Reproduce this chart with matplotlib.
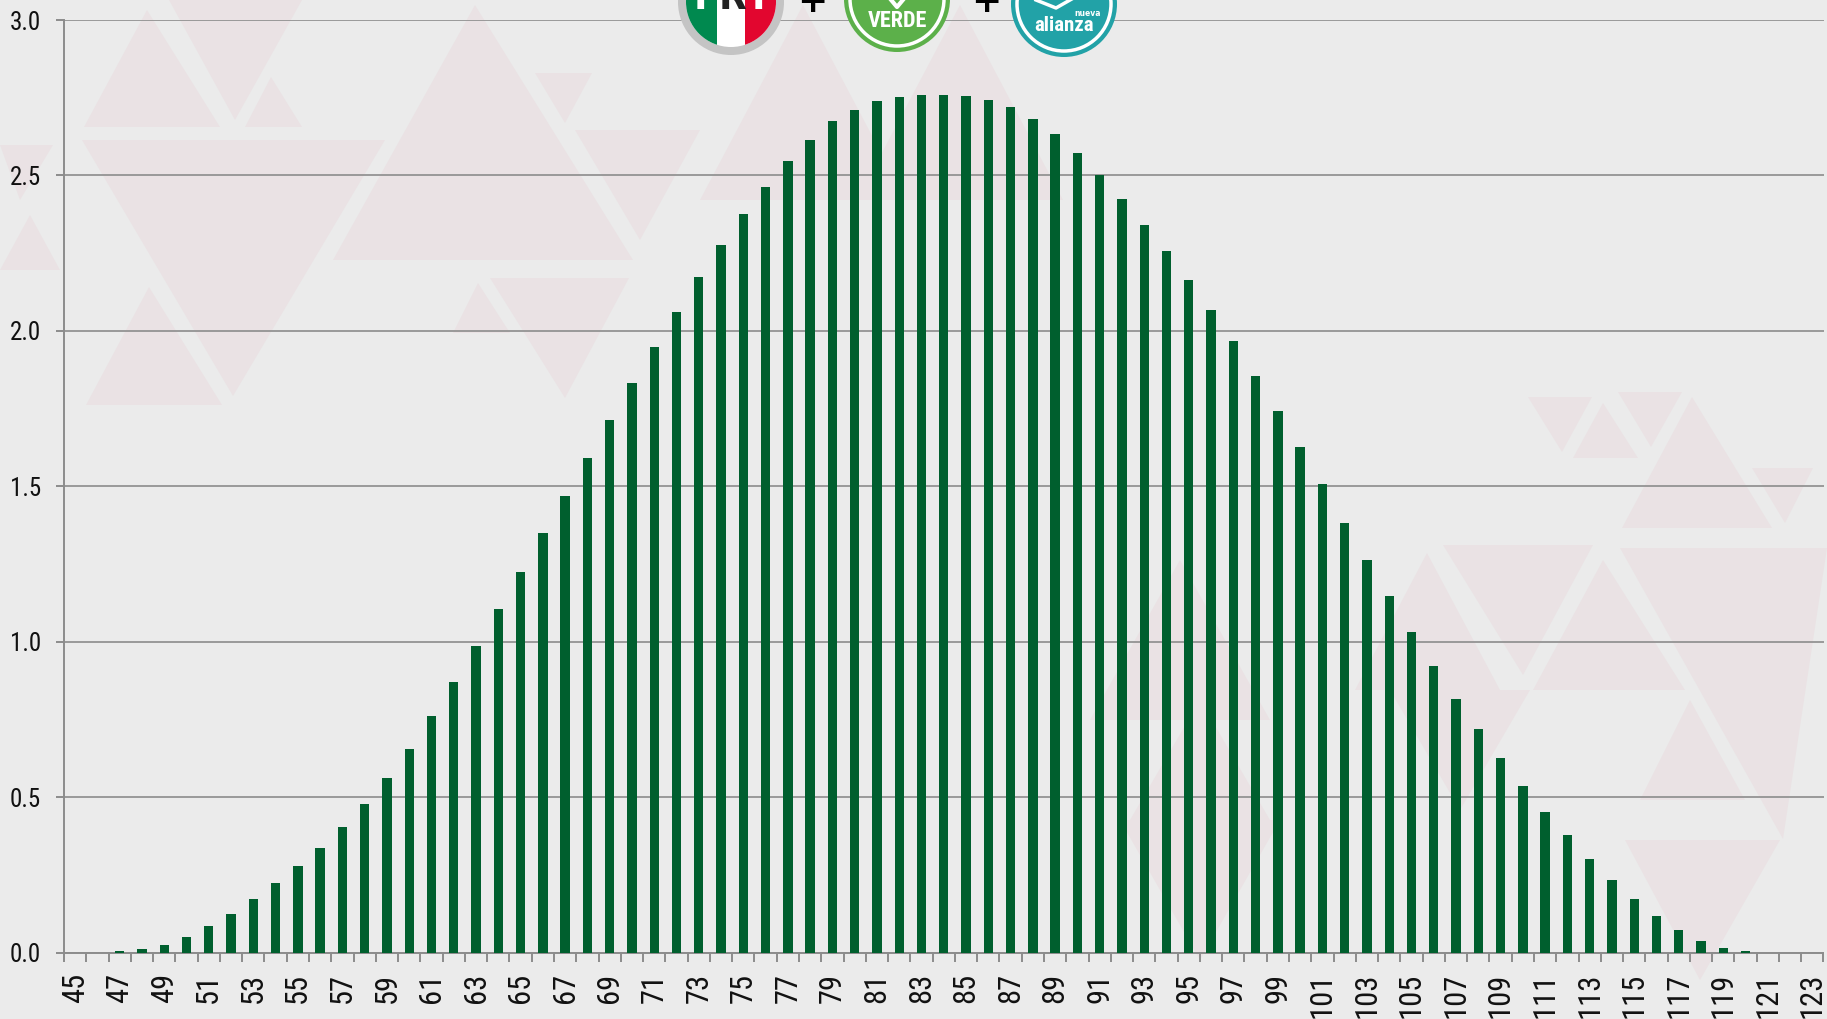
import numpy as np
import matplotlib
matplotlib.use("Agg")
import matplotlib.pyplot as plt
from matplotlib.font_manager import FontProperties, findfont
from matplotlib.textpath import TextPath
from matplotlib.patches import Polygon, Circle
from matplotlib.ticker import FixedLocator

# seats (categories) and probability (%) per seat count
seats = list(range(45, 124))
prob = [0.000, 0.000, 0.004, 0.011, 0.025, 0.049, 0.084, 0.125, 0.171, 0.223,
        0.279, 0.337, 0.404, 0.479, 0.562, 0.655, 0.760, 0.869, 0.985, 1.105,
        1.225, 1.348, 1.468, 1.592, 1.712, 1.831, 1.948, 2.060, 2.172, 2.277,
        2.375, 2.464, 2.547, 2.614, 2.674, 2.712, 2.738, 2.753, 2.760, 2.760,
        2.757, 2.742, 2.719, 2.682, 2.633, 2.573, 2.502, 2.423, 2.341, 2.258,
        2.165, 2.067, 1.966, 1.854, 1.742, 1.625, 1.506, 1.382, 1.262, 1.146,
        1.030, 0.921, 0.816, 0.719, 0.625, 0.536, 0.453, 0.378, 0.302, 0.232,
        0.172, 0.116, 0.071, 0.038, 0.016, 0.006, 0.000, 0.000, 0.000]
y_ticks = [0.0, 0.5, 1.0, 1.5, 2.0, 2.5, 3.0]

W, H = 1827, 1019
BG = "#ebebeb"
TRI = "#eae2e4"
GREEN = "#005f2e"
GRID = "#8c8c8c"
INK = "#111111"


def narrow_font():
    # the original uses an Arial Narrow style face: "123" at 22 pt is ~30 pt wide
    target = 30.0
    cands = [
        dict(family="Liberation Sans Narrow"),
        dict(family="Arial Narrow"),
        dict(family="Roboto Condensed"),
        dict(family="Noto Sans", stretch="semi-condensed"),
        dict(family="Noto Sans", stretch="condensed"),
        dict(family="Open Sans", stretch="semi-condensed"),
        dict(family="Open Sans", stretch="condensed"),
        dict(family="DejaVu Sans", stretch="condensed"),
        dict(family="Liberation Sans"),
    ]
    best, best_d = None, None
    for c in cands:
        fp = FontProperties(weight="normal", **c)
        try:
            findfont(fp, fallback_to_default=False)
        except Exception:
            continue
        w = TextPath((0, 0), "123", size=22, prop=fp).get_extents().width
        d = abs(w - target)
        if best_d is None or d < best_d - 0.01:
            best, best_d = dict(c, _w=w), d
    return best


NARROW = narrow_font()
w123 = NARROW.pop("_w")
NARROW["family"] = [NARROW["family"], "DejaVu Sans"]
NARROW["weight"] = "normal"
# keep 3-digit tick labels inside the bottom edge (about 41 px long)
x_fs = 22
if w123 * 100 / 72 > 41:
    x_fs = 22 * 41 / (w123 * 100 / 72)

fig = plt.figure(figsize=(W / 100, H / 100), dpi=100, facecolor=BG)

# background decoration: faint triangles (figure pixel coords, y down)
bg = fig.add_axes([0, 0, 1, 1], zorder=0)
bg.set_xlim(0, W)
bg.set_ylim(H, 0)
bg.axis("off")
triangles = [
    [(147, 10), (84, 127), (220, 127)],
    [(169, 0), (302, 0), (235, 120)],
    [(271, 77), (245, 127), (302, 127)],
    [(82, 140), (385, 140), (233, 396)],
    [(475, 5), (333, 260), (633, 260)],
    [(535, 73), (592, 73), (565, 123)],
    [(575, 130), (700, 130), (640, 240)],
    [(149, 287), (86, 405), (222, 405)],
    [(478, 283), (453, 333), (510, 333)],
    [(490, 278), (629, 278), (565, 398)],
    [(0, 145), (53, 145), (20, 200)],
    [(30, 215), (0, 270), (60, 270)],
    [(803, 5), (700, 200), (906, 200)],
    [(960, 5), (857, 200), (1063, 200)],
    [(1528, 397), (1592, 397), (1562, 452)],
    [(1603, 403), (1573, 458), (1638, 458)],
    [(1618, 392), (1682, 392), (1651, 447)],
    [(1692, 397), (1622, 528), (1772, 528)],
    [(1752, 468), (1813, 468), (1785, 523)],
    [(1443, 545), (1593, 545), (1523, 675)],
    [(1603, 560), (1533, 690), (1685, 690)],
    [(1620, 548), (1827, 548), (1783, 839)],
    [(1427, 553), (1355, 690), (1500, 690)],
    [(1390, 690), (1530, 690), (1460, 810)],
    [(1690, 700), (1640, 800), (1745, 800)],
    [(1625, 840), (1780, 840), (1700, 980)],
    [(1180, 560), (1090, 720), (1270, 720)],
    [(1120, 820), (1280, 820), (1200, 960)],
    [(1200, 700), (1130, 820), (1270, 820)],
]
for t in triangles:
    bg.add_patch(Polygon(t, closed=True, facecolor=TRI, edgecolor="none"))

# main chart
left, right, top, bottom = 64, 1823.5, 20, 952.5
ax = fig.add_axes([left / W, 1 - bottom / H, (right - left) / W, (bottom - top) / H],
                  zorder=1)
ax.set_facecolor("none")

x = np.arange(len(seats))
ax.bar(x, prob, width=0.42, color=GREEN, zorder=3)

ax.set_xlim(-0.5, len(seats) - 0.5)
ax.set_ylim(0, 3.0)
ax.set_yticks(y_ticks)
ax.set_yticklabels([f"{v:.1f}" for v in y_ticks], fontsize=18, **NARROW)
ax.yaxis.grid(True, color=GRID, linewidth=1.2, zorder=1)
ax.set_axisbelow(True)

ax.xaxis.set_major_locator(FixedLocator(x[::2]))
ax.set_xticklabels([str(s) for s in seats[::2]], rotation=90, fontsize=x_fs, **NARROW)
ax.xaxis.set_minor_locator(FixedLocator(np.arange(-0.5, len(seats), 1.0)))
ax.tick_params(axis="x", which="major", length=0, pad=14.5, colors=INK)
ax.tick_params(axis="x", which="minor", length=6.5, width=1.4, color=GRID)
ax.tick_params(axis="y", which="major", length=6, width=1.4, color=GRID,
               labelcolor=INK, pad=10.5)

for side in ("top", "right"):
    ax.spines[side].set_visible(False)
for side in ("left", "bottom"):
    ax.spines[side].set_color(GRID)
    ax.spines[side].set_linewidth(1.4)

# party logos at top (cropped in the original)
lg = fig.add_axes([0, 0, 1, 1], zorder=3)
lg.set_xlim(0, W)
lg.set_ylim(H, 0)
lg.axis("off")
lg.set_facecolor("none")
r = 53

# PRI
cx, cy = 731, 2
lg.add_patch(Circle((cx, cy), r, facecolor="#c4c4c4", edgecolor="none"))
lg.add_patch(Circle((cx, cy), r - 8, facecolor="white", edgecolor="none"))
clip = Circle((cx, cy), r - 8, transform=lg.transData)
g = lg.add_patch(plt.Rectangle((cx - r, cy - r), 39, 2 * r, facecolor="#00894f",
                               edgecolor="none"))
rd = lg.add_patch(plt.Rectangle((cx + 14, cy - r), r, 2 * r, facecolor="#e2062f",
                                edgecolor="none"))
g.set_clip_path(clip)
rd.set_clip_path(clip)
for dx, letter, col in ((-24, "P", "white"), (2, "R", "#222222"), (27, "I", "white")):
    lg.text(cx + dx, cy + 14, letter, color=col, fontsize=26, fontweight="bold",
            ha="center", va="bottom")

# VERDE
cx, cy = 897, -1
lg.add_patch(Circle((cx, cy), r, facecolor="#5cb04a", edgecolor="none"))
lg.add_patch(Circle((cx, cy), r - 6, facecolor="none", edgecolor="white", linewidth=2.5))
lg.text(cx, cy + 22, "VERDE", color="white", fontsize=16, fontweight="bold",
        ha="center", va="center", family=NARROW["family"])
lg.plot([cx - 10, cx, cx + 10], [cy - 4, cy + 8, cy - 4], color="white", lw=3)

# Nueva Alianza
cx, cy = 1064, 4
lg.add_patch(Circle((cx, cy), r, facecolor="#22a2a7", edgecolor="none"))
lg.add_patch(Circle((cx, cy), r - 6, facecolor="none", edgecolor="white", linewidth=2.5))
lg.text(cx, cy + 21, "alianza", color="white", fontsize=15, fontweight="bold",
        ha="center", va="center", family=NARROW["family"])
lg.text(cx + 24, cy + 9, "nueva", color="white", fontsize=5.5, fontweight="bold",
        ha="center", va="center")
lg.plot([cx - 28, cx - 8, cx + 20], [cy - 4, cy + 4, cy - 12], color="white", lw=2.5)

for px in (812, 986):
    lg.text(px, 2, "+", color="black", fontsize=26, fontweight="bold",
            ha="center", va="center")

fig.savefig("out.png", dpi=100, facecolor=BG)
